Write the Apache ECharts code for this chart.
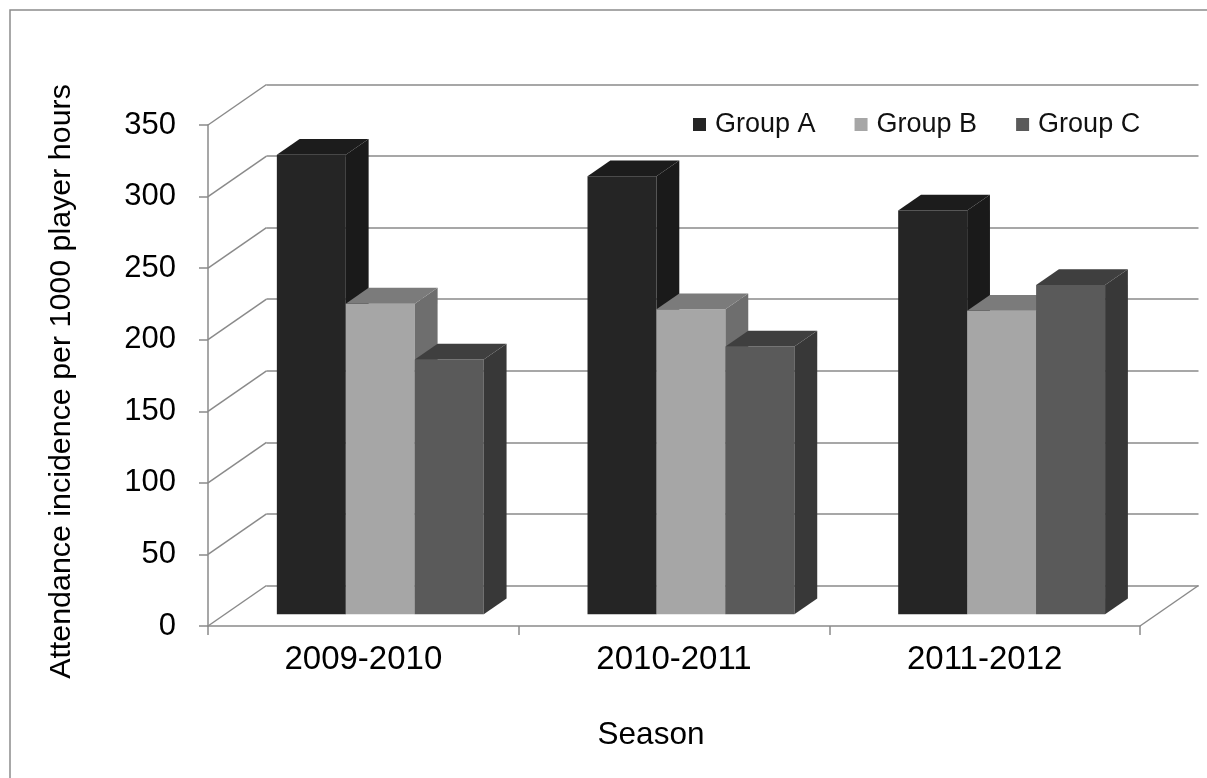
<!DOCTYPE html>
<html>
<head>
<meta charset="utf-8">
<script src="https://cdn.jsdelivr.net/npm/echarts@6/dist/echarts.min.js"></script>
<style>
html,body{margin:0;padding:0;background:#fff;}
#chart{width:1207px;height:778px;}
</style>
</head>
<body>
<div id="chart"></div>
<script>
// ---- data ----
var categories = ['2009-2010', '2010-2011', '2011-2012'];
var groupA = [321, 306, 282];
var groupB = [217, 213, 212];
var groupC = [178, 187, 230];
var seriesNames = ['Group A', 'Group B', 'Group C'];
var yTicks = [0, 50, 100, 150, 200, 250, 300, 350];

// ---- layout / style ----
var FONT = "'Liberation Sans', Arial, sans-serif";
var FRONT = {left: 208, top: 125, width: 932, height: 501};
var BACK = {left: 266.5, top: 84.5, width: 932, height: 501};
var DX = BACK.left - FRONT.left;
var DY = BACK.top - FRONT.top;
var F1 = 0.29, F2 = 0.68;      // depth fractions of bar front/back faces
var BARW = 0.222;              // bar width as fraction of band
var LINE = '#8a8a8a';
var faceColors = [
  {front: '#252525', side: '#1a1a1a', top: '#1c1c1c'},
  {front: '#a6a6a6', side: '#6e6e6e', top: '#7b7b7b'},
  {front: '#5a5a5a', side: '#383838', top: '#3f3f3f'}
];

function barRender(k) {
  return function (params, api) {
    var idx = api.value(0), val = api.value(1);
    var base = api.coord([idx, 0]);
    var topPt = api.coord([idx, val]);
    var band = api.size([1, 0])[0];
    var w = band * BARW;
    var x0 = base[0] - 1.5 * w + k * w + DX * F1;
    var x1 = x0 + w;
    var yb = base[1] + DY * F1;
    var yt = topPt[1] + DY * F1;
    var ddx = DX * (F2 - F1), ddy = DY * (F2 - F1);
    var c = faceColors[k];
    return {
      type: 'group',
      children: [
        {type: 'polygon', shape: {points: [[x0, yb], [x1, yb], [x1, yt], [x0, yt]]}, style: {fill: c.front}},
        {type: 'polygon', shape: {points: [[x1, yb], [x1 + ddx, yb + ddy], [x1 + ddx, yt + ddy], [x1, yt]]}, style: {fill: c.side}},
        {type: 'polygon', shape: {points: [[x0, yt], [x1, yt], [x1 + ddx, yt + ddy], [x0 + ddx, yt + ddy]]}, style: {fill: c.top}}
      ]
    };
  };
}

var groups = [groupA, groupB, groupC];
var barSeries = groups.map(function (g, k) {
  return {
    name: seriesNames[k],
    type: 'custom',
    xAxisIndex: 0, yAxisIndex: 0,
    itemStyle: {color: faceColors[k].front},
    renderItem: barRender(k),
    data: g.map(function (v, i) { return [i, v]; }),
    z: 5
  };
});

var chart = echarts.init(document.getElementById('chart'));
chart.setOption({
  animation: false,
  backgroundColor: '#fff',
  textStyle: {fontFamily: FONT},
  graphic: [{
    type: 'rect',
    shape: {x: 10, y: 10, width: 1220, height: 800},
    style: {fill: 'none', stroke: '#8c8c8c', lineWidth: 1.5},
    silent: true
  }],
  legend: {
    left: 688, top: 106,
    itemWidth: 13, itemHeight: 13, itemGap: 39,
    textStyle: {fontSize: 27, color: '#111', fontFamily: FONT, padding: [0, 0, 0, 4]},
    data: seriesNames.map(function (n, k) {
      return {name: n, icon: 'rect', itemStyle: {color: faceColors[k].front}};
    })
  },
  grid: [
    {left: FRONT.left, top: FRONT.top, width: FRONT.width, height: FRONT.height},
    {left: BACK.left, top: BACK.top, width: BACK.width, height: BACK.height}
  ],
  xAxis: [{
    type: 'category', gridIndex: 0, data: categories,
    axisLine: {show: true, lineStyle: {color: LINE, width: 1.5}},
    axisTick: {show: true, length: 9, lineStyle: {color: LINE, width: 1.5}},
    axisLabel: {fontSize: 33, color: '#000', margin: 17, fontFamily: FONT},
    name: 'Season', nameLocation: 'middle', nameGap: 93,
    nameTextStyle: {fontSize: 31.5, color: '#000', fontFamily: FONT, padding: [0, 46, 0, 0]}
  }, {
    type: 'category', gridIndex: 1, data: categories, show: false
  }],
  yAxis: [{
    type: 'value', gridIndex: 0, min: 0, max: 350, interval: 50,
    axisLine: {show: true, lineStyle: {color: LINE, width: 1.5}},
    axisTick: {show: true, length: 9, lineStyle: {color: LINE, width: 1.5}},
    splitLine: {show: false},
    axisLabel: {fontSize: 31, color: '#000', margin: 32, fontFamily: FONT},
    name: 'Attendance incidence per 1000 player hours',
    nameLocation: 'middle', nameGap: 131,
    nameTextStyle: {fontSize: 30.4, color: '#000', fontFamily: FONT, padding: [0, 12, 0, 0]}
  }, {
    type: 'value', gridIndex: 1, min: 0, max: 350, interval: 50,
    axisLine: {show: false}, axisTick: {show: false}, axisLabel: {show: false},
    splitLine: {show: true, lineStyle: {color: LINE, width: 1.5}}
  }],
  series: [{
    type: 'custom', name: 'wall', xAxisIndex: 0, yAxisIndex: 0, silent: true, z: 1,
    data: yTicks.map(function (v) { return [0, v]; }),
    renderItem: function (params, api) {
      var y = api.coord([0, api.value(1)])[1];
      var x = params.coordSys.x;
      return {type: 'line', shape: {x1: x, y1: y, x2: x + DX, y2: y + DY},
        style: {stroke: LINE, lineWidth: 1.5}};
    }
  }, {
    type: 'custom', name: 'floor', xAxisIndex: 0, yAxisIndex: 0, silent: true, z: 1,
    data: [[0, 0]],
    renderItem: function (params, api) {
      var cs = params.coordSys;
      var x = cs.x + cs.width, y = api.coord([0, 0])[1];
      return {type: 'line', shape: {x1: x, y1: y, x2: x + DX, y2: y + DY},
        style: {stroke: LINE, lineWidth: 1.5}};
    }
  }].concat(barSeries)
});
</script>
</body>
</html>
